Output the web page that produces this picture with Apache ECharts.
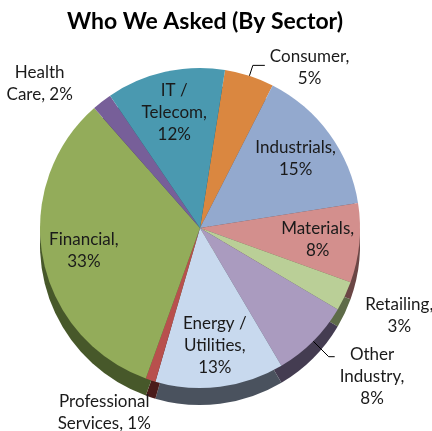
<!DOCTYPE html>
<html>
<head>
<meta charset="utf-8">
<script src="https://cdn.jsdelivr.net/npm/echarts@6/dist/echarts.min.js"></script>
<style>
  html, body { margin: 0; padding: 0; background: #ffffff; }
  #chart { width: 432px; height: 431px; }
</style>
</head>
<body>
<div id="chart"></div>
<script>
// Survey respondents by sector (percent of total), clockwise from the top
const sectors = ['Consumer', 'Industrials', 'Materials', 'Retailing', 'Other Industry',
  'Energy / Utilities', 'Professional Services', 'Financial', 'Health Care', 'IT / Telecom'];
const shares = [5, 15, 8, 3, 8, 13, 1, 33, 2, 12];
// How each sector name wraps in its label
const wrappedNames = ['Consumer,\n', 'Industrials,\n', 'Materials,\n', 'Retailing,\n', 'Other\nIndustry,\n',
  'Energy /\nUtilities,\n', 'Professional\nServices, ', 'Financial,\n', 'Health\nCare, ', 'IT /\nTelecom,\n'];
// Sectors whose label sits outside the pie
const outsideLabels = ['Consumer', 'Retailing', 'Other Industry', 'Professional Services', 'Health Care'];
const withLeader = ['Consumer', 'Other Industry'];

const topColors = ['#DA8740', '#93A9CE', '#D38F8D', '#BACF97', '#AA9BBF',
  '#C8D9EE', '#B8504D', '#93AC5A', '#775F99', '#4A99B0'];
const sideColors = ['#6E4320', '#4A5568', '#6B4645', '#5E6B48', '#443C51',
  '#4A525E', '#4A1B1A', '#47582A', '#3C3050', '#25505C'];

const cx = 200, cy = 228, R = 160, depth = 17;
const labelFont = { fontFamily: 'Lato', fontSize: 17, color: '#1a1a1a', lineHeight: 22 };

function labelText(i) {
  const lines = (wrappedNames[i] + shares[i] + '%').split('\n');
  return lines.map(l => '{c|' + l + '}').join('\n');
}

// leader geometry for outside labels [length, length2]
const leaderLen = {
  'Consumer': [11, 12],
  'Retailing': [15, 2],
  'Other Industry': [22, 6],
  'Professional Services': [25, 0],
  'Health Care': [23, 10]
};
// fine adjustments of outside label blocks
const labelShift = {
  'Consumer': [0, 2],
  'Retailing': [0, 13],
  'Other Industry': [0, 20],
  'Professional Services': [13, 9],
  'Health Care': [0, 0]
};

const chart = echarts.init(document.getElementById('chart'), null, { renderer: 'canvas' });

const sideData = sectors.map((s, i) => ({ name: s, value: shares[i], itemStyle: { color: sideColors[i] } }));
const topData = sectors.map((s, i) => {
  const outside = outsideLabels.indexOf(s) >= 0;
  const item = { name: s, value: shares[i], itemStyle: { color: topColors[i] } };
  if (outside) {
    item.label = { show: true, position: 'outside' };
    item.labelLine = { show: withLeader.indexOf(s) >= 0, length: leaderLen[s][0], length2: leaderLen[s][1] };
  } else {
    item.label = { show: false };
    item.labelLine = { show: false };
  }
  return item;
});
const innerLabelData = sectors.map((s, i) => ({
  name: s, value: shares[i],
  label: { show: outsideLabels.indexOf(s) < 0 }
}));

const richStyle = { c: Object.assign({ align: 'center' }, labelFont) };

chart.setOption({
  animation: false,
  title: {
    text: 'Who We Asked (By Sector)',
    left: 200,
    textAlign: 'center',
    top: 5,
    textStyle: { fontFamily: 'Lato', fontWeight: 'bold', fontSize: 23, color: '#000000' }
  },
  series: [
    {
      // pie thickness
      type: 'pie',
      center: [cx, cy + depth],
      radius: R,
      startAngle: 81,
      clockwise: true,
      silent: true,
      avoidLabelOverlap: false,
      label: { show: false },
      labelLine: { show: false },
      data: sideData,
      z: 1
    },
    {
      // pie top face with outside labels
      type: 'pie',
      center: [cx, cy],
      radius: R,
      startAngle: 81,
      clockwise: true,
      avoidLabelOverlap: false,
      label: {
        formatter: p => labelText(p.dataIndex),
        rich: richStyle,
        alignTo: 'none'
      },
      labelLine: { lineStyle: { color: '#000000', width: 1 }, smooth: false },
      labelLayout: p => {
        const s = sectors[p.dataIndex];
        const sh = labelShift[s];
        return sh ? { dx: sh[0], dy: sh[1] } : {};
      },
      data: topData,
      z: 2
    },
    {
      // in-slice labels, placed around 70% of the radius
      type: 'pie',
      center: [cx, cy],
      radius: [R * 0.44, R],
      startAngle: 81,
      clockwise: true,
      silent: true,
      avoidLabelOverlap: false,
      itemStyle: { color: 'rgba(0,0,0,0)' },
      label: {
        position: 'inside',
        formatter: p => labelText(p.dataIndex),
        rich: richStyle
      },
      labelLine: { show: false },
      data: innerLabelData,
      z: 3
    }
  ]
});
</script>
</body>
</html>
